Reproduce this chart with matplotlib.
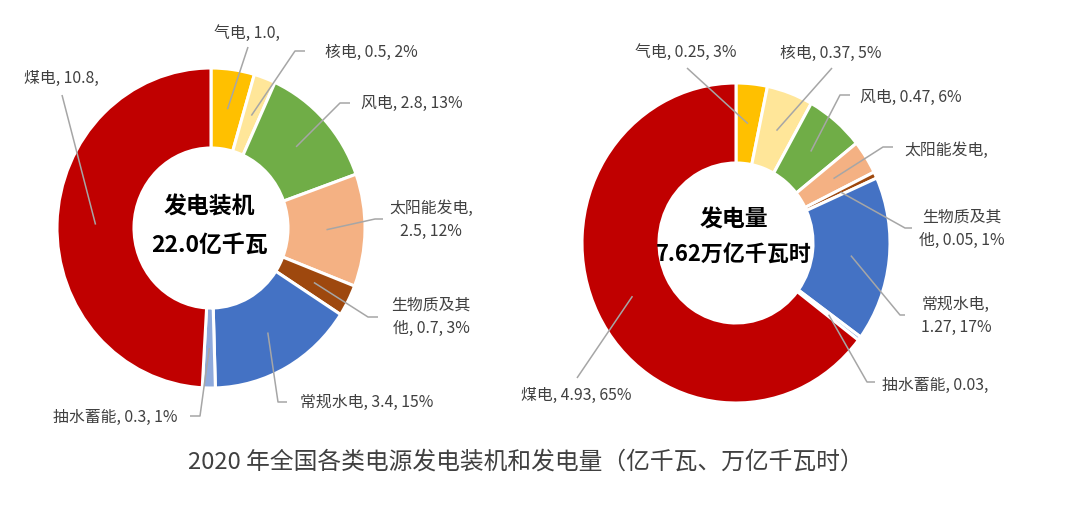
import matplotlib
matplotlib.use("Agg")
import matplotlib.pyplot as plt
import numpy as np

plt.rcParams['font.family'] = ['Noto Sans CJK SC', 'DejaVu Sans']

# ---------------- data ----------------
categories = ['气电', '核电', '风电', '太阳能发电', '生物质及其他', '常规水电', '抽水蓄能', '煤电']
cap_values = [1.0, 0.5, 2.8, 2.5, 0.7, 3.4, 0.3, 10.8]
gen_values = [0.25, 0.37, 0.47, 0.26, 0.05, 1.27, 0.03, 4.93]
cap_labels = ['气电, 1.0,', '核电, 0.5, 2%', '风电, 2.8, 13%', '太阳能发电,\n2.5, 12%',
              '生物质及其\n他, 0.7, 3%', '常规水电, 3.4, 15%', '抽水蓄能, 0.3, 1%', '煤电, 10.8,']
gen_labels = ['气电, 0.25, 3%', '核电, 0.37, 5%', '风电, 0.47, 6%', '太阳能发电,',
              '生物质及其\n他, 0.05, 1%', '常规水电,\n1.27, 17%', '抽水蓄能, 0.03,', '煤电, 4.93, 65%']
cap_center = ['发电装机', '22.0亿千瓦']
gen_center = ['发电量', '7.62万亿千瓦时']
title = '2020 年全国各类电源发电装机和发电量（亿千瓦、万亿千瓦时）'

colors = ['#FFC000', '#FFE699', '#70AD47', '#F4B183', '#9E480E', '#4472C4', '#8FAADC', '#C00000']

# ---------------- layout (pixels) ----------------
W, H = 1080, 512
RX, RY = 154, 160
M = 1.06

# label text positions and leader-line paths (figure pixels, y from top)
cap_text_pos = [(247, 33), (371, 52), (412, 103), (431, 220), (431, 317), (367, 402), (115, 417), (61, 78)]
cap_paths = [[(248, 47)], [(295, 51), (305, 51)], [(340, 103), (350, 103)], [(375, 219), (383, 219)],
             [(368, 317), (378, 317)], [(278, 402), (287, 402)], [(200, 416), (190, 416)], [(62, 95)]]
gen_text_pos = [(686, 52), (831, 53), (911, 97), (946, 150), (962, 229), (956, 316), (935, 385), (576, 395)]
gen_paths = [[(687, 68)], [(832, 68)], [(840, 95), (850, 95)], [(883, 147), (893, 147)],
             [(905, 228), (912, 228)], [(900, 315), (905, 315)], [(867, 382), (875, 382)], [(577, 378)]]

fig = plt.figure(figsize=(W / 100, H / 100), dpi=100)
fig.patch.set_facecolor('white')

overlay = fig.add_axes([0, 0, 1, 1], zorder=5)
overlay.set_xlim(0, W)
overlay.set_ylim(H, 0)
overlay.axis('off')
overlay.patch.set_alpha(0)


def donut(cx, cy, values, labels, text_pos, paths, center_lines, center_dy, center_sizes):
    rect = [(cx - RX * M) / W, (H - (cy + RY * M)) / H, 2 * RX * M / W, 2 * RY * M / H]
    ax = fig.add_axes(rect, zorder=1)
    wedges, _ = ax.pie(values, colors=colors, startangle=90, counterclock=False, radius=1,
                       wedgeprops=dict(width=0.5, edgecolor='white', linewidth=2.2))
    ax.set_aspect('auto')
    ax.set_xlim(-M, M)
    ax.set_ylim(-M, M)
    ax.axis('off')
    for w, lab, tp, path in zip(wedges, labels, text_pos, paths):
        mid = np.deg2rad((w.theta1 + w.theta2) / 2)
        px, py = ax.transData.transform((0.75 * np.cos(mid), 0.75 * np.sin(mid)))
        pts = [(px, H - py)] + path
        xs = [p[0] for p in pts]
        ys = [p[1] for p in pts]
        overlay.plot(xs, ys, color='#A6A6A6', lw=1.1, solid_capstyle='butt')
        overlay.text(tp[0], tp[1], lab, ha='center', va='center', fontsize=11.4,
                     color='#404040', linespacing=1.5)
    for line, dy, fs in zip(center_lines, center_dy, center_sizes):
        overlay.text(cx - 2, cy + dy, line, ha='center', va='center',
                     fontsize=fs, fontweight='bold', color='black')


donut(211, 228, cap_values, cap_labels, cap_text_pos, cap_paths, cap_center, (-21, 17), (16.5, 16.5))
donut(736, 243, gen_values, gen_labels, gen_text_pos, gen_paths, gen_center, (-23, 12), (16.5, 15.8))

overlay.text(526, 462, title, ha='center', va='center', fontsize=17.1, color='#404040')

fig.savefig('out.png', dpi=100, facecolor='white')
